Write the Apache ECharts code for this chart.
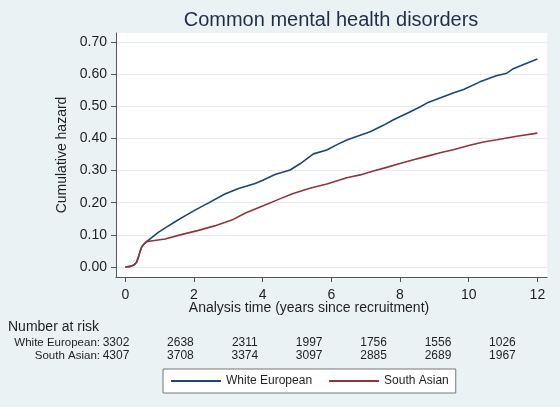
<!DOCTYPE html>
<html>
<head>
<meta charset="utf-8">
<script src="https://cdn.jsdelivr.net/npm/echarts@6/dist/echarts.min.js"></script>
<style>
  html, body { margin: 0; padding: 0; background: #eaf2f3; }
  #chart { width: 560px; height: 407px; }
</style>
</head>
<body>
<div id="chart"></div>
<script>
// cumulative hazard curves, [years, hazard]
const whiteEuropean = [
  [0, 0], [0.15, 0.002], [0.25, 0.006], [0.33, 0.015], [0.38, 0.03], [0.43, 0.048],
  [0.48, 0.063], [0.55, 0.072], [0.62, 0.079], [0.75, 0.09], [0.96, 0.108], [1.2, 0.124],
  [1.45, 0.141], [1.75, 0.16], [2.03, 0.177], [2.4, 0.198], [2.9, 0.227], [3.3, 0.244],
  [3.78, 0.26], [4.02, 0.271], [4.36, 0.288], [4.8, 0.302], [5.1, 0.322], [5.48, 0.352],
  [5.87, 0.364], [6.15, 0.38], [6.45, 0.395], [7.13, 0.421], [7.5, 0.44], [7.81, 0.458],
  [8.24, 0.48], [8.58, 0.498], [8.78, 0.51], [9.2, 0.527], [9.55, 0.541], [9.85, 0.552],
  [10.33, 0.576], [10.8, 0.595], [11.11, 0.603], [11.3, 0.617], [11.6, 0.63], [12, 0.647]
];
const southAsian = [
  [0, 0], [0.15, 0.002], [0.25, 0.006], [0.33, 0.015], [0.38, 0.03], [0.43, 0.048],
  [0.48, 0.063], [0.55, 0.072], [0.62, 0.079], [0.8, 0.082], [1.16, 0.087], [1.6, 0.1],
  [2.13, 0.114], [2.6, 0.128], [3.1, 0.146], [3.5, 0.168], [4.0, 0.19], [4.5, 0.212],
  [4.89, 0.229], [5.4, 0.246], [5.87, 0.2585], [6.45, 0.278], [6.84, 0.2866], [7.2, 0.298],
  [7.61, 0.31], [8.0, 0.322], [8.39, 0.334], [8.8, 0.345], [9.2, 0.356], [9.55, 0.365],
  [10.0, 0.378], [10.43, 0.389], [10.82, 0.396], [11.4, 0.407], [12, 0.4165]
];

const xTicks = [0, 2, 4, 6, 8, 10, 12];
const yTicks = [0, 0.1, 0.2, 0.3, 0.4, 0.5, 0.6, 0.7];

const riskGroups = ['White European:', 'South Asian:'];
const riskWhite = [3302, 2638, 2311, 1997, 1756, 1556, 1026];
const riskSouth = [4307, 3708, 3374, 3097, 2885, 2689, 1967];

const FONT = "'Liberation Sans', Arial, sans-serif";
const TEXT = '#1f1f1f';

const chart = echarts.init(document.getElementById('chart'));

// number at risk table
const tableTexts = [];
tableTexts.push({
  type: 'text', left: 8, top: 320,
  style: { text: 'Number at risk', font: '14px ' + FONT, fill: TEXT }
});
[riskWhite, riskSouth].forEach((row, r) => {
  const y = 343 + r * 12.5;
  tableTexts.push({
    type: 'text', x: 100, y: y,
    style: { text: riskGroups[r], font: '11.5px ' + FONT, fill: TEXT, align: 'right', verticalAlign: 'middle' }
  });
  row.forEach((n, i) => {
    tableTexts.push({
      type: 'text', x: 116 + i * 64.4, y: y,
      style: { text: String(n), font: '12px ' + FONT, fill: TEXT, align: 'center', verticalAlign: 'middle' }
    });
  });
});

const option = {
  animation: false,
  backgroundColor: '#eaf2f3',
  grid: {
    left: 116, right: 13, top: 33, bottom: 130,
    show: true, backgroundColor: '#fff', borderWidth: 0
  },
  xAxis: {
    type: 'value',
    min: -0.27,
    max: 12.28,
    axisLine: { show: true, onZero: false, lineStyle: { color: '#555', width: 1 } },
    axisTick: { show: true, customValues: xTicks, length: 5, lineStyle: { color: '#555' } },
    axisLabel: { customValues: xTicks, margin: 11, fontSize: 14, fontFamily: FONT, color: TEXT },
    splitLine: { show: false }
  },
  yAxis: {
    type: 'value',
    min: -0.031,
    max: 0.728,
    axisLine: { show: true, onZero: false, lineStyle: { color: '#555', width: 1 } },
    axisTick: { show: true, customValues: yTicks, length: 5, lineStyle: { color: '#555' } },
    axisLabel: {
      customValues: yTicks, margin: 9, fontSize: 14, fontFamily: FONT, color: TEXT,
      formatter: v => v.toFixed(2)
    },
    splitLine: { show: true, lineStyle: { color: '#e3edef', width: 1 } }
  },
  legend: {
    left: 163, top: 369,
    orient: 'horizontal',
    backgroundColor: '#fff',
    borderColor: '#777',
    borderWidth: 1,
    padding: [6, 7, 6, 7],
    itemWidth: 50,
    itemHeight: 14,
    itemGap: 16,
    itemStyle: { opacity: 0 },
    textStyle: { fontSize: 12, fontFamily: FONT, color: TEXT },
    data: ['White European', 'South Asian']
  },
  series: [
    {
      name: 'White European', type: 'line', data: whiteEuropean,
      symbol: 'none', lineStyle: { color: '#1a476f', width: 1.6 }, itemStyle: { color: '#1a476f' }
    },
    {
      name: 'South Asian', type: 'line', data: southAsian,
      symbol: 'none', lineStyle: { color: '#90353b', width: 1.6 }, itemStyle: { color: '#90353b' }
    }
  ],
  graphic: [
    {
      type: 'text', x: 331, y: 20,
      style: { text: 'Common mental health disorders', font: '20px ' + FONT, fill: '#1e2d4a', align: 'center', verticalAlign: 'middle' }
    },
    {
      type: 'text', x: 62, y: 155, rotation: Math.PI / 2,
      style: { text: 'Cumulative hazard', font: '14px ' + FONT, fill: TEXT, align: 'center', verticalAlign: 'middle' }
    },
    {
      type: 'text', x: 309, y: 308,
      style: { text: 'Analysis time (years since recruitment)', font: '14px ' + FONT, fill: TEXT, align: 'center', verticalAlign: 'middle' }
    }
  ].concat(tableTexts)
};

chart.setOption(option);
</script>
</body>
</html>
